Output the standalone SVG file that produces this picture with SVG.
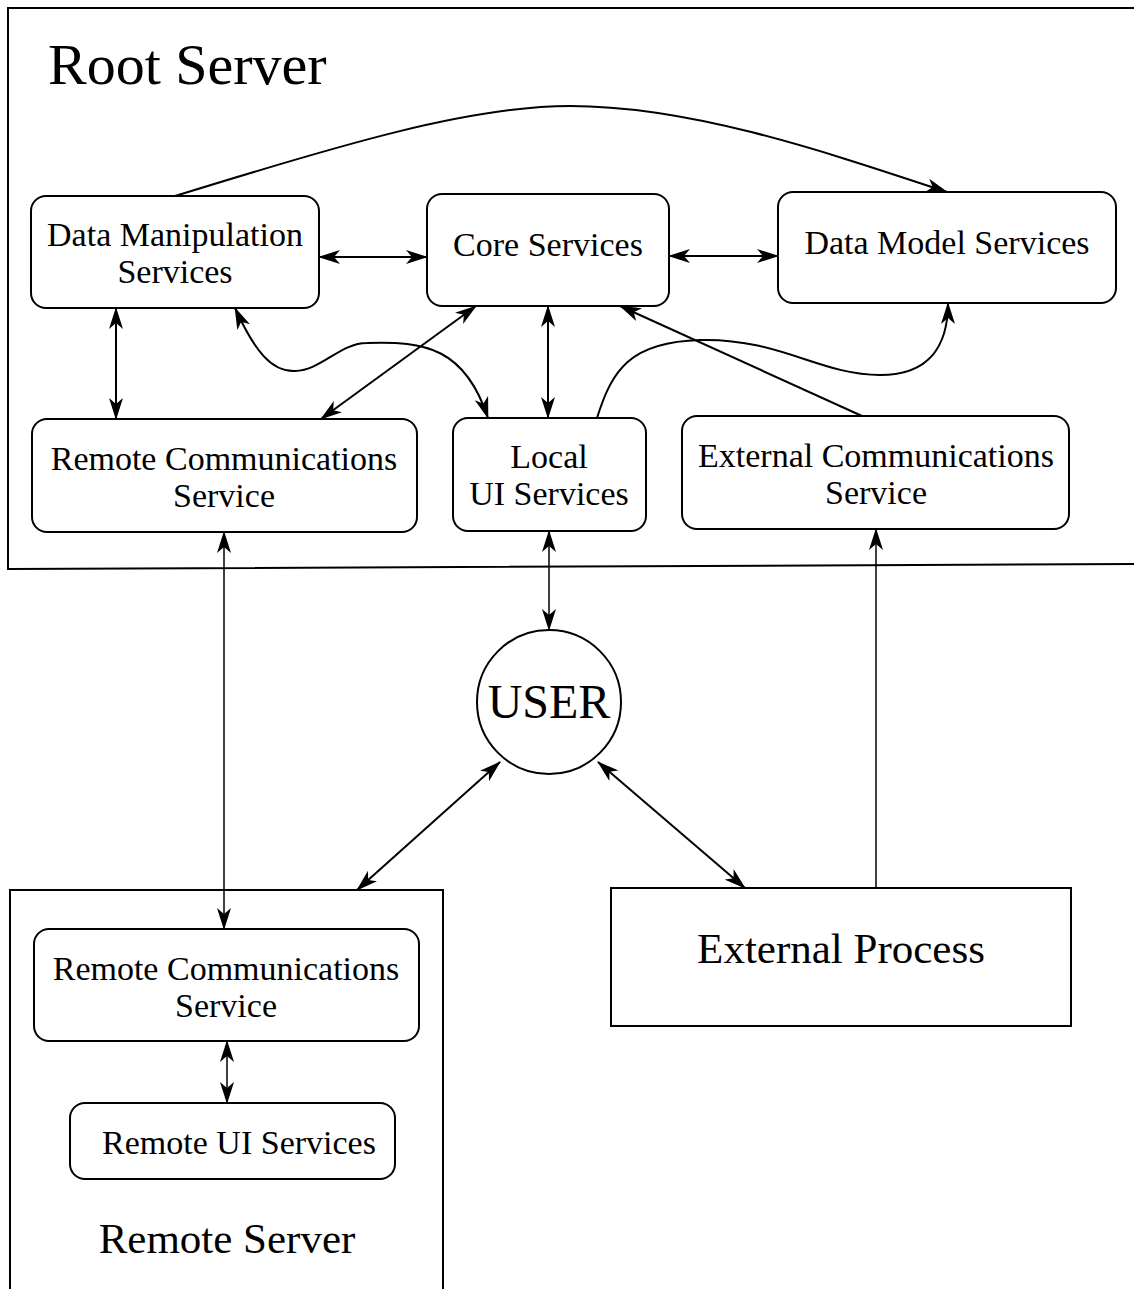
<svg xmlns="http://www.w3.org/2000/svg" width="1134" height="1289" viewBox="0 0 1134 1289">
<defs>
<marker id="ah" viewBox="0 0 22 14" refX="21" refY="7" markerWidth="22" markerHeight="14" markerUnits="userSpaceOnUse" orient="auto-start-reverse">
<path d="M0,0 L22,7 L0,14 L6,7 z" fill="#000"/>
</marker>
</defs>
<style>
.box{fill:#fff;stroke:#000;stroke-width:2}
.frame{fill:none;stroke:#000;stroke-width:2}
.t{font-family:"Liberation Serif","Times New Roman",serif;font-size:34px;fill:#000;text-anchor:middle}
.c{fill:none;stroke:#000;stroke-width:2}
.bi{marker-start:url(#ah);marker-end:url(#ah)}
.one{marker-end:url(#ah)}
</style>

<g id="root-server">
<path class="frame" d="M1134,8 L8,8 L8,569 L1134,564"/>
<text x="48" y="84" style="font-family:'Liberation Serif','Times New Roman',serif;font-size:58px">Root Server</text>
</g>
<g id="remote-server">
<path class="frame" d="M10,1289 L10,890 L443,890 L443,1289"/>
<text class="t" x="227" y="1253" style="font-size:43px">Remote Server</text>
</g>

<g id="connectors">
<path class="c one" d="M175,196 C 340,145 470,106 570,106 C 690,106 820,150 947,192"/>
<line class="c bi" x1="319" y1="257" x2="427" y2="257"/>
<line class="c bi" x1="669" y1="256" x2="778" y2="256"/>
<line class="c bi" x1="116" y1="308" x2="116" y2="419"/>
<line class="c bi" x1="476" y1="306" x2="321" y2="419"/>
<path class="c bi" d="M235,308 C 255,352 272,372 295,371 C 322,370 340,343 367,343 C 425,341 465,348 488,418"/>
<line class="c bi" x1="548" y1="306" x2="548" y2="418"/>
<line class="c one" x1="862" y1="416" x2="620" y2="306"/>
<path class="c one" d="M597,418 C 612,370 630,342 700,340 C 780,338 820,375 880,375 C 930,375 948,345 948,303"/>
<line class="c bi" x1="224" y1="532" x2="224" y2="929" style="stroke-width:1.5"/>
<line class="c bi" x1="549" y1="531" x2="549" y2="630" style="stroke-width:1.5"/>
<line class="c one" x1="876" y1="888" x2="876" y2="529" style="stroke-width:1.5"/>
<line class="c bi" x1="500" y1="762" x2="357" y2="890"/>
<line class="c bi" x1="598" y1="762" x2="745" y2="888"/>
<line class="c bi" x1="227" y1="1041" x2="227" y2="1103" style="stroke-width:1.5"/>
</g>

<g id="data-manipulation">
<rect class="box" x="31" y="196" width="288" height="112" rx="15"/>
<text class="t" x="175" y="246">Data Manipulation</text>
<text class="t" x="175" y="283">Services</text>
</g>
<g id="core-services">
<rect class="box" x="427" y="194" width="242" height="112" rx="15"/>
<text class="t" x="548" y="256">Core Services</text>
</g>
<g id="data-model-services">
<rect class="box" x="778" y="192" width="338" height="111" rx="15"/>
<text class="t" x="947" y="254">Data Model Services</text>
</g>
<g id="remote-comm-root">
<rect class="box" x="32" y="419" width="385" height="113" rx="15"/>
<text class="t" x="224" y="470">Remote Communications</text>
<text class="t" x="224" y="507">Service</text>
</g>
<g id="local-ui">
<rect class="box" x="453" y="418" width="193" height="113" rx="15"/>
<text class="t" x="549" y="468">Local</text>
<text class="t" x="549" y="505">UI Services</text>
</g>
<g id="external-comm">
<rect class="box" x="682" y="416" width="387" height="113" rx="15"/>
<text class="t" x="876" y="467">External Communications</text>
<text class="t" x="876" y="504">Service</text>
</g>
<g id="user">
<circle class="box" cx="549" cy="702" r="72"/>
<text class="t" x="549" y="718" style="font-size:48px">USER</text>
</g>
<g id="external-process">
<rect class="box" x="611" y="888" width="460" height="138"/>
<text class="t" x="841" y="963" style="font-size:43px">External Process</text>
</g>
<g id="remote-comm-remote">
<rect class="box" x="34" y="929" width="385" height="112" rx="15"/>
<text class="t" x="226" y="980">Remote Communications</text>
<text class="t" x="226" y="1017">Service</text>
</g>
<g id="remote-ui">
<rect class="box" x="70" y="1103" width="325" height="76" rx="15"/>
<text class="t" x="239" y="1154">Remote UI Services</text>
</g>
</svg>
